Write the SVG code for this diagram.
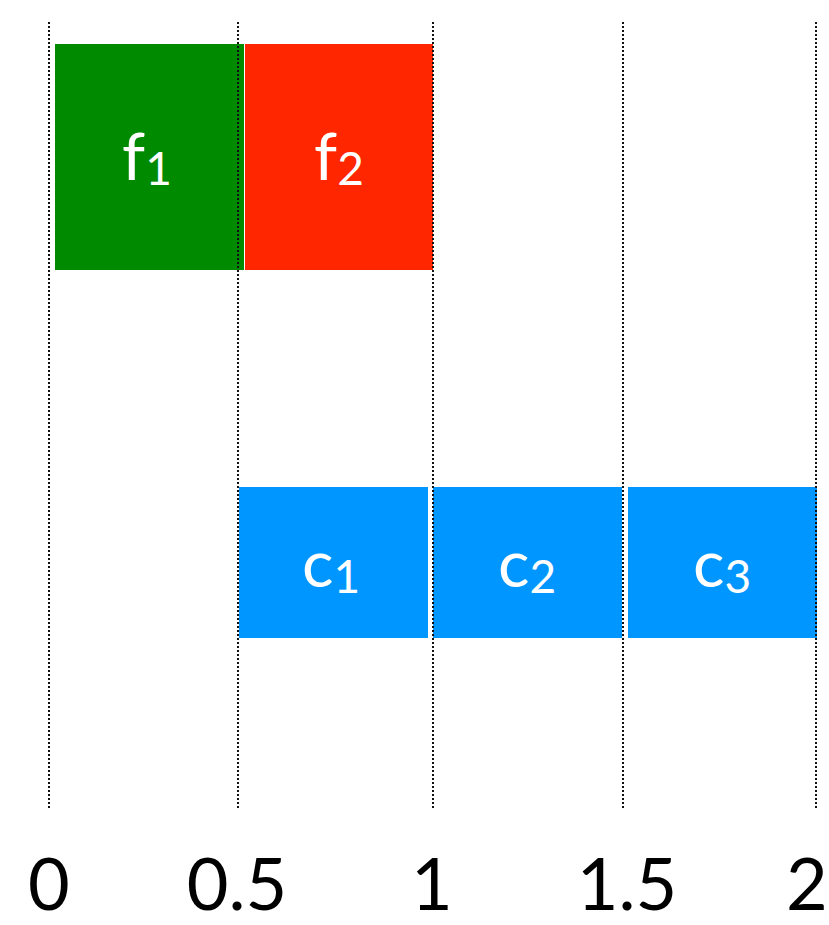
<svg xmlns="http://www.w3.org/2000/svg" width="829" height="925" viewBox="0 0 829 925">
  <style>
    .lbl { font-family: "Gill Sans", "Lato", "Open Sans", sans-serif; fill: #ffffff; font-size: 66px; text-anchor: middle; }
    .sub { font-size: 46px; }
    .tick { font-family: "Gill Sans", "Lato", "Open Sans", sans-serif; fill: #000000; font-size: 72px; text-anchor: middle; }
    .grid { stroke: #111111; stroke-width: 2; stroke-dasharray: 2 2; fill: none; }
  </style>
  <rect width="829" height="925" fill="#ffffff"/>

  <!-- top row: f1, f2 -->
  <g id="f1">
    <rect x="55" y="44" width="189" height="226" fill="#008a00"/>
    <text class="lbl" x="147" y="180">f<tspan class="sub" dy="5">1</tspan></text>
  </g>
  <g id="f2">
    <rect x="245" y="44" width="188" height="226" fill="#ff2600"/>
    <text class="lbl" x="339" y="180">f<tspan class="sub" dy="5">2</tspan></text>
  </g>

  <!-- bottom row: c1, c2, c3 -->
  <g id="c1">
    <rect x="239" y="487" width="189" height="151" fill="#0096ff"/>
    <text class="lbl" x="331" y="587">c<tspan class="sub" dy="6">1</tspan></text>
  </g>
  <g id="c2">
    <rect x="433" y="487" width="189" height="151" fill="#0096ff"/>
    <text class="lbl" x="527" y="587">c<tspan class="sub" dy="6">2</tspan></text>
  </g>
  <g id="c3">
    <rect x="628" y="487" width="189" height="151" fill="#0096ff"/>
    <text class="lbl" x="722" y="587">c<tspan class="sub" dy="6">3</tspan></text>
  </g>

  <!-- dotted time gridlines -->
  <g id="connectors">
    <line class="grid" x1="49" y1="22" x2="49" y2="808"/>
    <line class="grid" x1="238" y1="22" x2="238" y2="808"/>
    <line class="grid" x1="433" y1="22" x2="433" y2="808"/>
    <line class="grid" x1="623" y1="22" x2="623" y2="808"/>
    <line class="grid" x1="816" y1="22" x2="816" y2="808"/>
  </g>

  <!-- axis labels -->
  <g id="axis">
    <text class="tick" x="49" y="910">0</text>
    <text class="tick" x="237" y="910">0.5</text>
    <text class="tick" x="432" y="910">1</text>
    <text class="tick" x="627" y="910">1.5</text>
    <text class="tick" x="807" y="910">2</text>
  </g>
</svg>
